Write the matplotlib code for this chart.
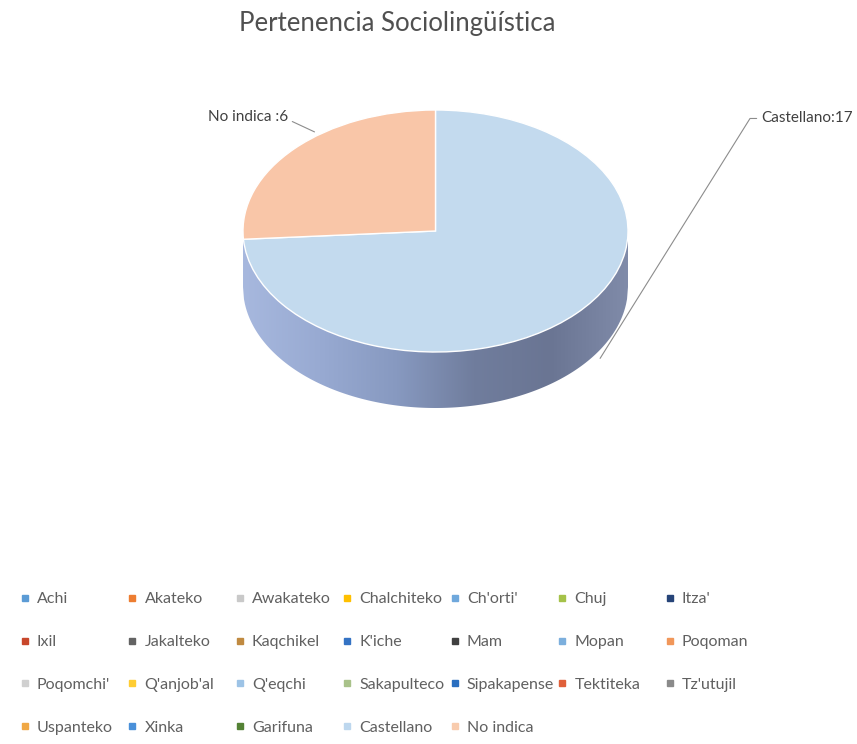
import numpy as np
import matplotlib
matplotlib.use("Agg")
import matplotlib.pyplot as plt
from matplotlib.lines import Line2D
from matplotlib.colors import LinearSegmentedColormap

plt.rcParams['font.family'] = ['Lato', 'DejaVu Sans']

# legend categories (all of them) and their colours
categories = ["Achi", "Akateko", "Awakateko", "Chalchiteko", "Ch'orti'", "Chuj", "Itza'",
              "Ixil", "Jakalteko", "Kaqchikel", "K'iche", "Mam", "Mopan", "Poqoman",
              "Poqomchi'", "Q'anjob'al", "Q'eqchi", "Sakapulteco", "Sipakapense", "Tektiteka", "Tz'utujil",
              "Uspanteko", "Xinka", "Garifuna", "Castellano", "No indica"]
cat_colors = ["#5b9bd5", "#ed7d31", "#c9c9c9", "#ffc000", "#6fa8dc", "#a5c249", "#264478",
              "#c8472b", "#636363", "#c08a40", "#3473c4", "#404040", "#7cafdd", "#f1975a",
              "#d0d0d0", "#ffcd33", "#9dc3e6", "#a9c28a", "#2a6fc0", "#e0603a", "#8a8a8a",
              "#f0a845", "#4a90d9", "#548235", "#bdd7ee", "#f8cbad"]

# slices that actually have values
pie_labels = ["Castellano", "No indica"]
pie_values = [17, 6]
pie_colors = ["#c3daee", "#f9c6a8"]

W, H = 857, 744
fig = plt.figure(figsize=(W / 100, H / 100), dpi=100)
ax = fig.add_axes([0, 0, 1, 1])

# pie geometry in pixels (centre, semi axes, depth)
CX, CY, RX, RY, DEPTH = 435.5, 231, 192.5, 121, 56
d = DEPTH / RY

# side wall of the 3D pie with horizontal shading
xs = np.linspace(-1, 1, 400)
side = ax.fill_between(xs, -np.sqrt(1 - xs ** 2) - d, 0, color='none', lw=0, zorder=1)
shade = LinearSegmentedColormap.from_list('side', ["#a7b8de", "#98aad2", "#8799c0", "#707d9d", "#6a7593", "#808ba9"])
grad = np.linspace(0, 1, 256).reshape(1, -1)
im = ax.imshow(grad, cmap=shade, extent=(-1, 1, -1 - d, 0), aspect='auto', zorder=1)
im.set_clip_path(side.get_paths()[0], transform=ax.transData)

# excel style: first slice clockwise from 12 o'clock
wedges, _ = ax.pie(pie_values, colors=pie_colors, startangle=90, counterclock=False,
                   wedgeprops=dict(edgecolor='white', linewidth=1))
for w in wedges:
    w.set_zorder(2)

ax.set_aspect('auto')
ax.set_xlim(-CX / RX, (W - CX) / RX)
ax.set_ylim(-(H - CY) / RY, CY / RY)
ax.axis('off')

# data labels with leader lines
angles = 90 - np.cumsum([0] + pie_values) / sum(pie_values) * 360
mids = np.deg2rad((angles[:-1] + angles[1:]) / 2)
lcol = "#8c8c8c"
ax.annotate(f"{pie_labels[0]}:{pie_values[0]}", xy=(np.cos(mids[0]) * 1.17, np.sin(mids[0]) - 0.8 * d),
            xytext=(1.69, 0.93), ha='left', va='center', fontsize=11, color="#404040",
            arrowprops=dict(arrowstyle='-', color=lcol, lw=0.8, shrinkA=1, shrinkB=0,
                            connectionstyle="angle,angleA=180,angleB=58,rad=0"),
            annotation_clip=False)
ax.annotate(f"{pie_labels[1]} :{pie_values[1]}", xy=(np.cos(mids[1]) * 0.86, np.sin(mids[1]) * 1.2),
            xytext=(-0.765, 0.94), ha='right', va='center', fontsize=11, color="#404040",
            arrowprops=dict(arrowstyle='-', color=lcol, lw=0.8, shrinkA=1, shrinkB=0,
                            connectionstyle="angle,angleA=0,angleB=155,rad=0"),
            annotation_clip=False)

fig.text(0.464, 1 - 23 / H, "Pertenencia Sociolingüística", ha='center', va='center',
         fontsize=18.5, color="#505050")

# legend: excel uses equal column widths, so one legend per column
ncol = 7
col_x = 25          # first marker, px
col_pitch = 107.5   # px between columns
for j in range(ncol):
    idx = list(range(j, len(categories), ncol))
    hs = [Line2D([], [], marker='s', ls='none', markersize=5, color=cat_colors[i]) for i in idx]
    leg = fig.legend(hs, [categories[i] for i in idx], loc='upper left',
                     bbox_to_anchor=((col_x + j * col_pitch - 4) / W, 1 - 592 / H),
                     frameon=False, fontsize=11.5, handlelength=0.5, handletextpad=0.5,
                     labelspacing=1.8, labelcolor="#606060", borderaxespad=0, borderpad=0)

fig.savefig("out.png", dpi=100, facecolor='white')
